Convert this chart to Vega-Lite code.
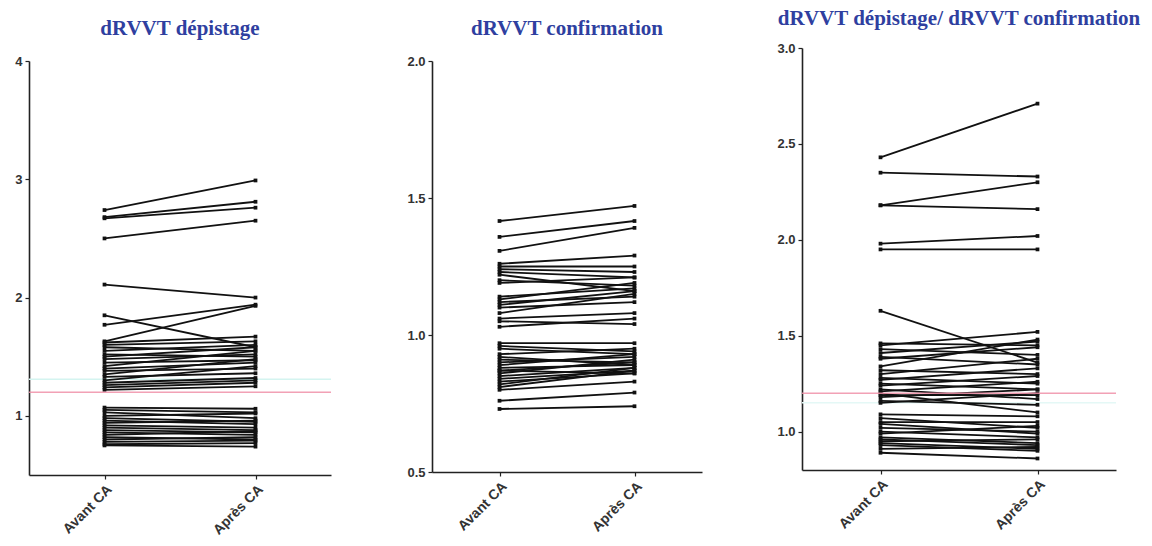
{
  "$schema": "https://vega.github.io/schema/vega-lite/v6.json",
  "background": "white",
  "padding": {"left": 14, "top": 8, "right": 0, "bottom": 0},
  "config": {
    "view": {"stroke": null},
    "title": {"font": "Liberation Serif", "fontSize": 21, "fontWeight": "bold", "color": "#2f3fa0", "anchor": "middle"},
    "axis": {"grid": false, "domainColor": "#222", "domainWidth": 1.6, "tickColor": "#222", "tickWidth": 1.2, "tickSize": 4, "labelFont": "Liberation Sans", "labelFontSize": 13, "labelFontWeight": "bold", "labelColor": "#333", "labelPadding": 3, "title": null}
  },
  "datasets": {
    "vide": [],
    "depistage": [
      {"id": 1, "Avant CA": 2.74, "Après CA": 2.99},
      {"id": 2, "Avant CA": 2.68, "Après CA": 2.81},
      {"id": 3, "Avant CA": 2.67, "Après CA": 2.76},
      {"id": 4, "Avant CA": 2.50, "Après CA": 2.65},
      {"id": 5, "Avant CA": 2.11, "Après CA": 2.00},
      {"id": 6, "Avant CA": 1.85, "Après CA": 1.58},
      {"id": 7, "Avant CA": 1.77, "Après CA": 1.94},
      {"id": 8, "Avant CA": 1.63, "Après CA": 1.93},
      {"id": 9, "Avant CA": 1.62, "Après CA": 1.67},
      {"id": 10, "Avant CA": 1.60, "Après CA": 1.63},
      {"id": 11, "Avant CA": 1.58, "Après CA": 1.55},
      {"id": 12, "Avant CA": 1.55, "Après CA": 1.60},
      {"id": 13, "Avant CA": 1.52, "Après CA": 1.50},
      {"id": 14, "Avant CA": 1.50, "Après CA": 1.58},
      {"id": 15, "Avant CA": 1.48, "Après CA": 1.52},
      {"id": 16, "Avant CA": 1.45, "Après CA": 1.47},
      {"id": 17, "Avant CA": 1.42, "Après CA": 1.55},
      {"id": 18, "Avant CA": 1.40, "Après CA": 1.45},
      {"id": 19, "Avant CA": 1.38, "Après CA": 1.40},
      {"id": 20, "Avant CA": 1.35, "Après CA": 1.48},
      {"id": 21, "Avant CA": 1.33, "Après CA": 1.36},
      {"id": 22, "Avant CA": 1.30, "Après CA": 1.42},
      {"id": 23, "Avant CA": 1.28, "Après CA": 1.32},
      {"id": 24, "Avant CA": 1.26, "Après CA": 1.30},
      {"id": 25, "Avant CA": 1.24, "Après CA": 1.28},
      {"id": 26, "Avant CA": 1.22, "Après CA": 1.25},
      {"id": 27, "Avant CA": 1.07, "Après CA": 1.06},
      {"id": 28, "Avant CA": 1.05, "Après CA": 1.03},
      {"id": 29, "Avant CA": 1.03, "Après CA": 0.98},
      {"id": 30, "Avant CA": 1.00, "Après CA": 1.02},
      {"id": 31, "Avant CA": 0.98, "Après CA": 0.95},
      {"id": 32, "Avant CA": 0.96, "Après CA": 0.93},
      {"id": 33, "Avant CA": 0.94, "Après CA": 0.96},
      {"id": 34, "Avant CA": 0.92, "Après CA": 0.90},
      {"id": 35, "Avant CA": 0.90, "Après CA": 0.88},
      {"id": 36, "Avant CA": 0.88, "Après CA": 0.86},
      {"id": 37, "Avant CA": 0.86, "Après CA": 0.84},
      {"id": 38, "Avant CA": 0.84, "Après CA": 0.87},
      {"id": 39, "Avant CA": 0.82, "Après CA": 0.80},
      {"id": 40, "Avant CA": 0.80, "Après CA": 0.82},
      {"id": 41, "Avant CA": 0.78, "Après CA": 0.79},
      {"id": 42, "Avant CA": 0.76, "Après CA": 0.77},
      {"id": 43, "Avant CA": 0.75, "Après CA": 0.74}
    ],
    "confirmation": [
      {"id": 1, "Avant CA": 1.416, "Après CA": 1.471},
      {"id": 2, "Avant CA": 1.358, "Après CA": 1.416},
      {"id": 3, "Avant CA": 1.307, "Après CA": 1.391},
      {"id": 4, "Avant CA": 1.26, "Après CA": 1.29},
      {"id": 5, "Avant CA": 1.25, "Après CA": 1.25},
      {"id": 6, "Avant CA": 1.23, "Après CA": 1.21},
      {"id": 7, "Avant CA": 1.22, "Après CA": 1.16},
      {"id": 8, "Avant CA": 1.20, "Après CA": 1.18},
      {"id": 9, "Avant CA": 1.19, "Après CA": 1.21},
      {"id": 10, "Avant CA": 1.14, "Après CA": 1.17},
      {"id": 11, "Avant CA": 1.13, "Après CA": 1.19},
      {"id": 12, "Avant CA": 1.11, "Après CA": 1.16},
      {"id": 13, "Avant CA": 1.10, "Après CA": 1.12},
      {"id": 14, "Avant CA": 1.08, "Après CA": 1.15},
      {"id": 15, "Avant CA": 1.06, "Après CA": 1.08},
      {"id": 16, "Avant CA": 1.05, "Après CA": 1.04},
      {"id": 17, "Avant CA": 1.03, "Après CA": 1.06},
      {"id": 18, "Avant CA": 0.97, "Après CA": 0.97},
      {"id": 19, "Avant CA": 0.95, "Après CA": 0.93},
      {"id": 20, "Avant CA": 0.93, "Après CA": 0.95},
      {"id": 21, "Avant CA": 0.91, "Après CA": 0.90},
      {"id": 22, "Avant CA": 0.90, "Après CA": 0.92},
      {"id": 23, "Avant CA": 0.88, "Après CA": 0.89},
      {"id": 24, "Avant CA": 0.87, "Après CA": 0.86},
      {"id": 25, "Avant CA": 0.86, "Après CA": 0.91},
      {"id": 26, "Avant CA": 0.85, "Après CA": 0.88},
      {"id": 27, "Avant CA": 0.84, "Après CA": 0.87},
      {"id": 28, "Avant CA": 0.83, "Après CA": 0.86},
      {"id": 29, "Avant CA": 0.82, "Après CA": 0.88},
      {"id": 30, "Avant CA": 0.81, "Après CA": 0.87},
      {"id": 31, "Avant CA": 0.80, "Après CA": 0.83},
      {"id": 32, "Avant CA": 0.76, "Après CA": 0.79},
      {"id": 33, "Avant CA": 0.73, "Après CA": 0.74},
      {"id": 34, "Avant CA": 0.96, "Après CA": 0.94},
      {"id": 35, "Avant CA": 0.89, "Après CA": 0.93},
      {"id": 36, "Avant CA": 1.12, "Après CA": 1.14},
      {"id": 37, "Avant CA": 1.24, "Après CA": 1.23},
      {"id": 38, "Avant CA": 0.92, "Après CA": 0.89},
      {"id": 39, "Avant CA": 0.87, "Après CA": 0.90}
    ],
    "ratio": [
      {"id": 1, "Avant CA": 2.43, "Après CA": 2.71},
      {"id": 2, "Avant CA": 2.35, "Après CA": 2.33},
      {"id": 3, "Avant CA": 2.18, "Après CA": 2.30},
      {"id": 4, "Avant CA": 2.18, "Après CA": 2.16},
      {"id": 5, "Avant CA": 1.98, "Après CA": 2.02},
      {"id": 6, "Avant CA": 1.95, "Après CA": 1.95},
      {"id": 7, "Avant CA": 1.63, "Après CA": 1.36},
      {"id": 8, "Avant CA": 1.46, "Après CA": 1.45},
      {"id": 9, "Avant CA": 1.45, "Après CA": 1.52},
      {"id": 10, "Avant CA": 1.43, "Après CA": 1.40},
      {"id": 11, "Avant CA": 1.41, "Après CA": 1.47},
      {"id": 12, "Avant CA": 1.39, "Après CA": 1.35},
      {"id": 13, "Avant CA": 1.38, "Après CA": 1.44},
      {"id": 14, "Avant CA": 1.34, "Après CA": 1.48},
      {"id": 15, "Avant CA": 1.32, "Après CA": 1.30},
      {"id": 16, "Avant CA": 1.30, "Après CA": 1.38},
      {"id": 17, "Avant CA": 1.28, "Après CA": 1.25},
      {"id": 18, "Avant CA": 1.27, "Après CA": 1.33},
      {"id": 19, "Avant CA": 1.25, "Après CA": 1.22},
      {"id": 20, "Avant CA": 1.24, "Après CA": 1.29},
      {"id": 21, "Avant CA": 1.22, "Après CA": 1.17},
      {"id": 22, "Avant CA": 1.21, "Après CA": 1.26},
      {"id": 23, "Avant CA": 1.20, "Après CA": 1.10},
      {"id": 24, "Avant CA": 1.19, "Après CA": 1.19},
      {"id": 25, "Avant CA": 1.18, "Après CA": 1.22},
      {"id": 26, "Avant CA": 1.16, "Après CA": 1.14},
      {"id": 27, "Avant CA": 1.15, "Après CA": 1.20},
      {"id": 28, "Avant CA": 1.09, "Après CA": 1.08},
      {"id": 29, "Avant CA": 1.07, "Après CA": 1.02},
      {"id": 30, "Avant CA": 1.05, "Après CA": 1.05},
      {"id": 31, "Avant CA": 1.04, "Après CA": 0.99},
      {"id": 32, "Avant CA": 1.02, "Après CA": 1.00},
      {"id": 33, "Avant CA": 1.00, "Après CA": 0.97},
      {"id": 34, "Avant CA": 0.99, "Après CA": 1.03},
      {"id": 35, "Avant CA": 0.97, "Après CA": 0.94},
      {"id": 36, "Avant CA": 0.96, "Après CA": 0.93},
      {"id": 37, "Avant CA": 0.95, "Après CA": 0.96},
      {"id": 38, "Avant CA": 0.94, "Après CA": 0.91},
      {"id": 39, "Avant CA": 0.93, "Après CA": 0.90},
      {"id": 40, "Avant CA": 0.91, "Après CA": 0.92},
      {"id": 41, "Avant CA": 0.89, "Après CA": 0.86}
    ],
    "seuil": [{"seuil": 1.2}],
    "cyan1": [{"v": 1.31}],
    "cyan3": [{"v": 1.15}]
  },
  "align": "none",
  "spacing": 74,
  "hconcat": [
    {
      "spacing": 6,
      "vconcat": [
        {
          "width": 302,
          "height": 1,
          "title": {"text": "dRVVT dépistage", "offset": 9},
          "data": {"name": "vide"},
          "mark": {"type": "point", "opacity": 0}
        },
        {
          "width": 302,
          "height": 414,
          "layer": [
            {
              "data": {"name": "cyan1"},
              "mark": {"type": "rule", "color": "#d4f4f0", "strokeWidth": 1.5},
              "encoding": {"y": {"field": "v", "type": "quantitative", "scale": {"domain": [0.5, 4]}}}
            },
            {
              "data": {"name": "depistage"},
              "transform": [{"fold": ["Avant CA", "Après CA"], "as": ["temps", "valeur"]}],
              "mark": {"type": "line", "color": "#111", "strokeWidth": 1.8, "point": {"filled": true, "shape": "square", "size": 14, "color": "#111"}},
              "encoding": {
                "x": {"field": "temps", "type": "ordinal", "sort": ["Avant CA", "Après CA"], "scale": {"type": "point", "padding": 0.5}, "axis": {"labelAngle": -45, "labelAlign": "right", "labelBaseline": "top", "labelFontSize": 14}},
                "y": {"field": "valeur", "type": "quantitative", "scale": {"domain": [0.5, 4], "nice": false, "zero": false}, "axis": {"values": [1, 2, 3, 4], "format": "d"}},
                "detail": {"field": "id"}
              }
            },
            {
              "data": {"name": "seuil"},
              "mark": {"type": "rule", "color": "#f090a8", "strokeWidth": 1.5, "opacity": 0.85},
              "encoding": {"y": {"field": "seuil", "type": "quantitative"}}
            }
          ]
        }
      ]
    },
    {
      "spacing": 6,
      "vconcat": [
        {
          "width": 270,
          "height": 1,
          "title": {"text": "dRVVT confirmation", "offset": 9},
          "data": {"name": "vide"},
          "mark": {"type": "point", "opacity": 0}
        },
        {
          "width": 270,
          "height": 411,
          "data": {"name": "confirmation"},
          "transform": [{"fold": ["Avant CA", "Après CA"], "as": ["temps", "valeur"]}],
          "mark": {"type": "line", "color": "#111", "strokeWidth": 1.8, "point": {"filled": true, "shape": "square", "size": 14, "color": "#111"}},
          "encoding": {
            "x": {"field": "temps", "type": "ordinal", "sort": ["Avant CA", "Après CA"], "scale": {"type": "point", "padding": 0.5}, "axis": {"labelAngle": -45, "labelAlign": "right", "labelBaseline": "top", "labelFontSize": 14}},
            "y": {"field": "valeur", "type": "quantitative", "scale": {"domain": [0.5, 2.0], "nice": false, "zero": false}, "axis": {"values": [0.5, 1.0, 1.5, 2.0], "format": ".1f"}},
            "detail": {"field": "id"}
          }
        }
      ]
    },
    {
      "width": 314,
      "height": 422,
      "title": {"text": "dRVVT dépistage/ dRVVT confirmation", "offset": 13},
      "layer": [
        {
          "data": {"name": "cyan3"},
          "mark": {"type": "rule", "color": "#e4f8f6", "strokeWidth": 1.5},
          "encoding": {"y": {"field": "v", "type": "quantitative", "scale": {"domain": [0.8, 3.0]}}}
        },
        {
          "data": {"name": "ratio"},
          "transform": [{"fold": ["Avant CA", "Après CA"], "as": ["temps", "valeur"]}],
          "mark": {"type": "line", "color": "#111", "strokeWidth": 1.8, "point": {"filled": true, "shape": "square", "size": 14, "color": "#111"}},
          "encoding": {
            "x": {"field": "temps", "type": "ordinal", "sort": ["Avant CA", "Après CA"], "scale": {"type": "point", "padding": 0.5}, "axis": {"labelAngle": -45, "labelAlign": "right", "labelBaseline": "top", "labelFontSize": 14}},
            "y": {"field": "valeur", "type": "quantitative", "scale": {"domain": [0.8, 3.0], "nice": false, "zero": false}, "axis": {"values": [1.0, 1.5, 2.0, 2.5, 3.0], "format": ".1f"}},
            "detail": {"field": "id"}
          }
        },
        {
          "data": {"name": "seuil"},
          "mark": {"type": "rule", "color": "#f090a8", "strokeWidth": 1.5, "opacity": 0.85},
          "encoding": {"y": {"field": "seuil", "type": "quantitative"}}
        }
      ]
    }
  ]
}
